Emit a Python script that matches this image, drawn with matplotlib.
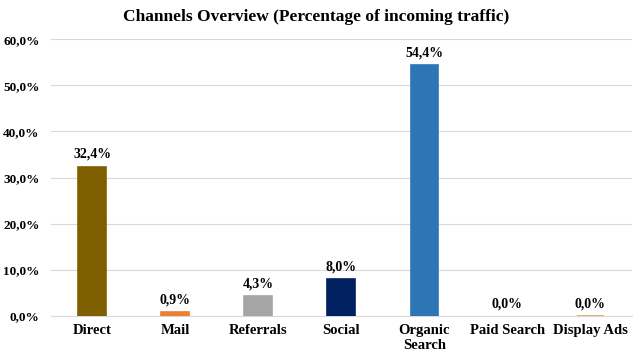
import matplotlib.pyplot as plt
from matplotlib.ticker import FuncFormatter

channels = ['Direct', 'Mail', 'Referrals', 'Social', 'Organic\nSearch', 'Paid Search', 'Display Ads']
share = [32.4, 0.9, 4.3, 8.0, 54.4, 0.0, 0.04]
colors = ['#7F6000', '#ED7D31', '#A5A5A5', '#002060', '#2E75B6', '#FFC000', '#D9A55A']

plt.rcParams['font.family'] = ['Liberation Serif', 'DejaVu Serif']
plt.rcParams['font.weight'] = 'bold'

fig = plt.figure(figsize=(6.33, 3.57), dpi=100)
ax = fig.add_axes([0.08, 0.115, 0.918, 0.775])

x = range(len(channels))
# zero bars get no outline so nothing shows; the tiny Display Ads bar keeps one
edges = [c if v > 0 else 'none' for c, v in zip(colors, share)]
bars = ax.bar(x, share, width=0.33, color=colors, edgecolor=edges, linewidth=1.2, zorder=3)

for xi, v in zip(x, share):
    ax.text(xi, v + 1.2, ('%.1f%%' % v).replace('.', ','), ha='center', va='bottom',
            fontsize=10, fontweight='bold')

ax.set_ylim(0, 60)
ax.set_xlim(-0.5, len(channels) - 0.5)
ax.set_yticks(range(0, 61, 10))
ax.yaxis.set_major_formatter(FuncFormatter(lambda v, p: ('%.1f%%' % v).replace('.', ',')))
ax.set_xticks(list(x))
ax.set_xticklabels(channels)
ax.tick_params(axis='x', length=0, labelsize=10.5, pad=6)
ax.tick_params(axis='y', length=0, labelsize=9.5, pad=8)
ax.grid(axis='y', color='#D9D9D9', linewidth=0.8, zorder=0)
for s in ['top', 'right', 'left']:
    ax.spines[s].set_visible(False)
ax.spines['bottom'].set_color('#D9D9D9')

fig.suptitle('Channels Overview (Percentage of incoming traffic)', fontsize=12.5,
             fontweight='bold', y=0.975)

fig.savefig('out.png', dpi=100)
